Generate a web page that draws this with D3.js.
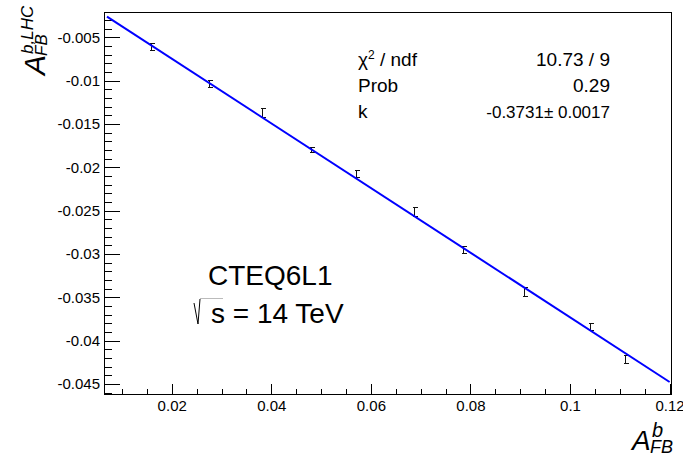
<!DOCTYPE html>
<html><head><meta charset="utf-8">
<script src="https://cdn.jsdelivr.net/npm/d3@7"></script>
<style>
body{margin:0;background:#fff}
text{font-family:"Liberation Sans",Arial,Helvetica,sans-serif;fill:#000}
</style>
</head><body>
<svg id="c" width="683" height="453"></svg>
<script>
// ---- data ----
const xValues=[0.01584,0.02743,0.03819,0.04797,0.05695,0.06872,0.07850,0.09081,0.10395,0.11104];
const yValues=[-0.00615,-0.01042,-0.01373,-0.01800,-0.02081,-0.02519,-0.02954,-0.03439,-0.03839,-0.04215];
const yErrors=[0.00040,0.00040,0.00054,0.00030,0.00040,0.00054,0.00035,0.00050,0.00042,0.00048];
const fitSlope=-0.3731;
const fitRange=[0.007,0.12];
const xDomain=[0.0064,0.12048];
const yDomain=[-0.04627,-0.00208];
const xMajorTicks=[0.02,0.04,0.06,0.08,0.1,0.12];
const xTickLabels=["0.02","0.04","0.06","0.08","0.1","0.12"];
const yMajorTicks=[-0.045,-0.04,-0.035,-0.03,-0.025,-0.02,-0.015,-0.01,-0.005];
const yTickLabels=["-0.045","-0.04","-0.035","-0.03","-0.025","-0.02","-0.015","-0.01","-0.005"];
const statLabels=["χ","Prob","k"];
const statValues=["10.73 / 9","0.29","-0.3731\u00b1 0.0017"];
const infoLines=["CTEQ6L1","s = 14 TeV"];

// ---- layout ----
const W=683,H=453;
const L=104,R=672,T=12,B=395;
const svg=d3.select("#c");
const x=d3.scaleLinear().domain(xDomain).range([L,R]);
const y=d3.scaleLinear().domain(yDomain).range([B,T]);

const xMinor=d3.range(2,25).map(i=>+(i*0.005).toFixed(3));
const yMinor=d3.range(-46,-2).map(i=>+(i*0.001).toFixed(3));

// axes
const gx=svg.append("g").attr("transform",`translate(0,${B})`);
gx.call(d3.axisBottom(x).tickValues(xMinor).tickSizeInner(-6).tickSizeOuter(0).tickFormat(""));
const gx2=svg.append("g").attr("transform",`translate(0,${B})`);
gx2.call(d3.axisBottom(x).tickValues(xMajorTicks).tickSizeInner(-11).tickSizeOuter(0).tickPadding(5)
  .tickFormat((d,i)=>xTickLabels[i]));
const gy=svg.append("g").attr("transform",`translate(${L},0)`);
gy.call(d3.axisLeft(y).tickValues(yMinor).tickSizeInner(-8).tickSizeOuter(0).tickFormat(""));
const gy2=svg.append("g").attr("transform",`translate(${L},0)`);
gy2.call(d3.axisLeft(y).tickValues(yMajorTicks).tickSizeInner(-16).tickSizeOuter(0).tickPadding(4)
  .tickFormat((d,i)=>yTickLabels[i]));
svg.selectAll(".domain").remove();
svg.selectAll(".tick line").attr("stroke","#000").attr("stroke-width",1).attr("shape-rendering","crispEdges");
svg.selectAll(".tick text").attr("font-size",15).attr("font-family","Liberation Sans, Arial, sans-serif").attr("fill","#000");

// frame
svg.append("rect").attr("x",L+0.5).attr("y",T+0.5).attr("width",R-L-1).attr("height",B-T-1)
  .attr("fill","none").attr("stroke","#000").attr("stroke-width",1).attr("shape-rendering","crispEdges");

// error bars
const eb=svg.append("g").attr("stroke","#111").attr("stroke-width",1).attr("shape-rendering","crispEdges");
xValues.forEach((xv,i)=>{
  const px=Math.round(x(xv))+0.5;
  const y1=y(yValues[i]+yErrors[i]), y2=y(yValues[i]-yErrors[i]);
  eb.append("line").attr("x1",px).attr("x2",px).attr("y1",y1).attr("y2",y2);
  eb.append("line").attr("x1",px-2).attr("x2",px+3).attr("y1",y1).attr("y2",y1);
  eb.append("line").attr("x1",px-2).attr("x2",px+3).attr("y1",y2).attr("y2",y2);
});

// fit line
const fitPts=fitRange.map(v=>[x(v),y(fitSlope*v)]);
svg.append("path").attr("d",d3.line()(fitPts)).attr("stroke","#0000ff").attr("stroke-width",2).attr("fill","none");

// stats
const st=svg.append("g");
const rowsY=[66,92,118];
const t0=st.append("text").attr("x",358).attr("y",rowsY[0]).attr("font-size",19);
t0.append("tspan").text("χ");
t0.append("tspan").attr("font-size",12).attr("dy",-7).text("2");
t0.append("tspan").attr("dy",7).text(" / ndf");
st.append("text").attr("x",358).attr("y",rowsY[1]).attr("font-size",19).text(statLabels[1]);
st.append("text").attr("x",358).attr("y",rowsY[2]).attr("font-size",19).text(statLabels[2]);
statValues.forEach((v,i)=>{
  st.append("text").attr("x",610).attr("y",rowsY[i]).attr("text-anchor","end")
    .attr("font-size",i===2?17:19).text(v);
});

// info text
svg.append("text").attr("x",208).attr("y",285).attr("font-size",28).text(infoLines[0]);
svg.append("text").attr("x",211).attr("y",323).attr("font-size",28).text(infoLines[1]);
svg.append("path").attr("d","M194,303 L198,324 L200,299").attr("stroke","#000").attr("stroke-width",1).attr("fill","none");
svg.append("path").attr("d","M200,298.5 L223,298.5").attr("stroke","#bbb").attr("stroke-width",1).attr("fill","none");

// x title
const xt=svg.append("g");
xt.append("text").attr("x",632).attr("y",450).attr("font-size",28).attr("font-style","italic").text("A");
xt.append("text").attr("x",652).attr("y",437).attr("font-size",20).attr("font-style","italic").text("b");
xt.append("text").attr("x",650).attr("y",453).attr("font-size",18).attr("font-style","italic").text("FB");

// y title
const yt=svg.append("g").attr("transform","translate(45,75) rotate(-90)");
yt.append("text").attr("x",0).attr("y",0).attr("font-size",30).attr("font-style","italic").text("A");
yt.append("text").attr("x",21).attr("y",-12).attr("font-size",17).attr("font-style","italic").text("b,LHC");
yt.append("text").attr("x",19).attr("y",2).attr("font-size",17).attr("font-style","italic").text("FB");
</script>
</body></html>
